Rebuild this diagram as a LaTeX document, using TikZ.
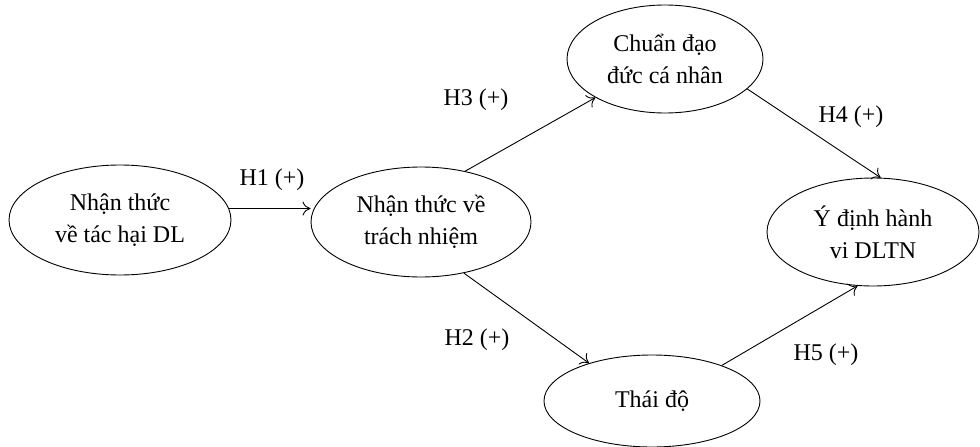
\documentclass[tikz,border=0pt]{standalone}
\usepackage{fontspec}
\setmainfont{Liberation Serif}
\usetikzlibrary{shapes.geometric,arrows.meta}
\tikzset{
  construct/.style={draw, ellipse, line width=0.9pt, align=center, font=\fontsize{24}{32}\selectfont, inner sep=0pt},
  link/.style={line width=0.9pt, -{To[length=8pt,width=14pt]}},
  hyp/.style={font=\fontsize{24}{28}\selectfont}
}
\begin{document}
\begin{tikzpicture}[x=1pt,y=-1pt]
  \useasboundingbox[fill=white] (0,0) rectangle (980,447);
  \node[construct, minimum width=222, minimum height=110] (nt) at (120,220) {Nhận thức\\về tác hại DL};
  \node[construct, minimum width=220, minimum height=110] (tn) at (421,222) {Nhận thức về\\trách nhiệm};
  \node[construct, minimum width=196, minimum height=108] (cd) at (665,59) {Chuẩn đạo\\đức cá nhân};
  \node[construct, minimum width=212, minimum height=108] (yd) at (873,232) {Ý định hành\\vi DLTN};
  \node[construct, minimum width=216, minimum height=92] (td) at (652,401) {Thái độ};

  \draw[link] (nt.6) -- (nt.6 -| tn.west);
  \draw[link] (tn.49) -- (cd.209);
  \draw[link] (tn.-50) -- (td.149);
  \draw[link] (cd.-20) -- (yd.82);
  \draw[link] (td.27) -- (yd.-106);

  \node[hyp] (h1) at (272,180) {H1 (+)};
  \node[hyp] (h3) at (476,100) {H3 (+)};
  \node[hyp] (h2) at (477,340) {H2 (+)};
  \node[hyp] (h4) at (851,117) {H4 (+)};
  \node[hyp] (h5) at (826,355) {H5 (+)};
\end{tikzpicture}
\end{document}
